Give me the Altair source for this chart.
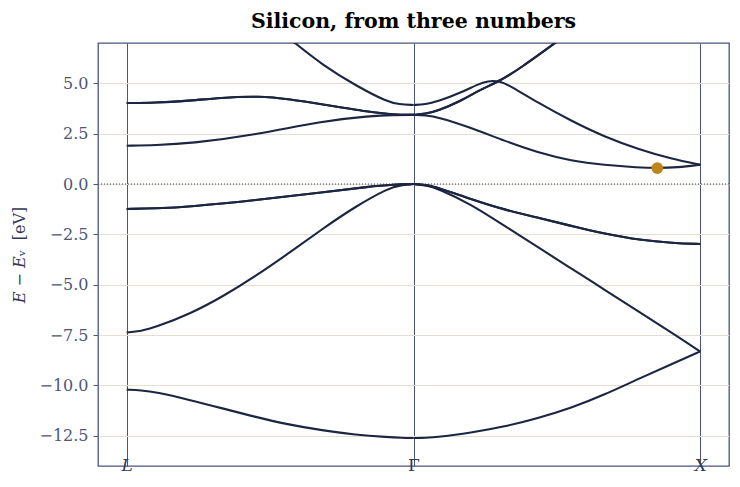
import altair as alt
import pandas as pd

# ---- data (path coordinate: L=0, Gamma=1, X=2) ----
LG_A_x = [0, 0.05, 0.102, 0.218, 0.334, 0.45, 0.566, 0.681, 0.797, 0.913, 0.957, 1.0]
LG_A_E = [-10.21, -10.24, -10.33, -10.71, -11.14, -11.57, -11.95, -12.23, -12.45, -12.57, -12.60, -12.61]

LG_B_x = [0, 0.05, 0.102, 0.218, 0.334, 0.45, 0.566, 0.68, 0.797, 0.913, 0.957, 1.0]
LG_B_E = [-7.37, -7.31, -7.10, -6.47, -5.60, -4.57, -3.43, -2.25, -1.12, -0.20, -0.05, 0.0]

LG_C_x = [0, 0.1, 0.218, 0.45, 0.68, 0.85, 0.93, 1.0]
LG_C_E = [-1.24, -1.21, -1.13, -0.80, -0.42, -0.12, -0.03, 0.0]

LG_D_x = [0, 0.1, 0.22, 0.45, 0.68, 0.85, 0.93, 1.0]
LG_D_E = [1.90, 1.93, 2.01, 2.44, 3.13, 3.38, 3.43, 3.43]

LG_E_x = [0, 0.1, 0.2, 0.33, 0.46, 0.57, 0.68, 0.85, 0.93, 1.0]
LG_E_E = [4.02, 4.04, 4.11, 4.29, 4.37, 4.21, 3.96, 3.56, 3.45, 3.43]

LG_F_x = [0.5, 0.59, 0.68, 0.80, 0.91, 0.95, 1.0]
LG_F_E = [8.0, 6.96, 5.94, 4.87, 4.07, 3.96, 3.92]

GX_a_x = [1.0, 1.042, 1.084, 1.2, 1.317, 1.433, 1.55, 1.666, 1.783, 1.9, 2.0]
GX_a_E = [-12.61, -12.60, -12.57, -12.35, -12.05, -11.63, -11.12, -10.46, -9.68, -8.95, -8.31]

GX_b_x = [1.0, 1.042, 1.084, 1.2, 1.317, 1.439, 1.555, 1.672, 1.788, 1.904, 2.0]
GX_b_E = [0.0, -0.06, -0.22, -1.00, -2.08, -3.18, -4.24, -5.30, -6.37, -7.41, -8.32]

GX_c_x = [1.0, 1.042, 1.084, 1.2, 1.317, 1.439, 1.555, 1.672, 1.788, 1.904, 2.0]
GX_c_E = [0.0, -0.04, -0.17, -0.75, -1.28, -1.69, -2.10, -2.48, -2.78, -2.93, -2.98]

GX_d_x = [1.0, 1.042, 1.084, 1.2, 1.317, 1.433, 1.55, 1.666, 1.783, 1.85, 1.92, 2.0]
GX_d_E = [3.43, 3.41, 3.33, 2.80, 2.14, 1.56, 1.15, 0.94, 0.82, 0.79, 0.82, 0.96]

GX_e_x = [1.0, 1.042, 1.084, 1.165, 1.224, 1.259, 1.3, 1.34, 1.433, 1.55, 1.666, 1.783, 1.9, 2.0]
GX_e_E = [3.92, 3.96, 4.09, 4.53, 4.95, 5.12, 5.12, 4.85, 4.04, 3.13, 2.34, 1.73, 1.24, 0.96]

GX_f_x = [1.0, 1.042, 1.084, 1.165, 1.235, 1.3, 1.375, 1.49, 1.6]
GX_f_E = [3.43, 3.48, 3.63, 4.12, 4.70, 5.11, 5.77, 6.96, 8.1]

CBM_x = [1.85]
CBM_E = [0.79]

TICK_POS = [0, 1, 2]
TICK_LAB = ["L", "Γ", "X"]
Y_TICKS = [-12.5, -10.0, -7.5, -5.0, -2.5, 0.0, 2.5, 5.0]

bands = [
    ("A", LG_A_x, LG_A_E), ("B", LG_B_x, LG_B_E),
    ("C1", LG_C_x, LG_C_E), ("C2", LG_C_x, LG_C_E),
    ("D", LG_D_x, LG_D_E),
    ("E1", LG_E_x, LG_E_E), ("E2", LG_E_x, LG_E_E),
    ("F", LG_F_x, LG_F_E),
    ("a", GX_a_x, GX_a_E), ("b", GX_b_x, GX_b_E),
    ("c1", GX_c_x, GX_c_E), ("c2", GX_c_x, GX_c_E),
    ("d", GX_d_x, GX_d_E), ("e", GX_e_x, GX_e_E),
    ("f1", GX_f_x, GX_f_E), ("f2", GX_f_x, GX_f_E),
]
rows = []
for name, xs, es in bands:
    for i, (xv, ev) in enumerate(zip(xs, es)):
        rows.append({"band": name, "k": xv, "E": ev, "i": i})
df = pd.DataFrame(rows)

FONT = "DejaVu Serif"
SLATE = "#4a5578"
LABEL = "#4d5676"
LINE = "#1c2541"

xscale = alt.Scale(domain=[-0.1, 2.1], nice=False, zero=False)
yscale = alt.Scale(domain=[-14, 7], nice=False, zero=False)

lab_expr = "datum.value == 0 ? '" + TICK_LAB[0] + "' : (datum.value == 1 ? '" + TICK_LAB[1] + "' : '" + TICK_LAB[2] + "')"

xaxis = alt.Axis(
    values=TICK_POS, labelExpr=lab_expr, title=None, ticks=False, domain=False,
    grid=True, gridColor=SLATE, gridWidth=1, gridOpacity=1,
    labelFont=FONT, labelFontSize=17, labelColor="#333a55",
    labelFontStyle={"condition": {"test": "datum.value == 1", "value": "normal"}, "value": "italic"},
    labelBaseline="middle", labelPadding=-1, labelFlush=False,
)
yaxis = alt.Axis(
    values=Y_TICKS, format=".1f", title="𝐸 − 𝐸ᵥ\u00a0\u00a0[eV]", domain=False,
    grid=True, gridColor="#e4dfd0", gridWidth=1, gridOpacity=1,
    ticks=True, tickSize=5, tickColor=SLATE, tickWidth=1,
    labelFont=FONT, labelFontSize=16, labelColor=LABEL, labelPadding=5,
    titleFont=FONT, titleFontSize=16, titleFontWeight="normal", titleColor="#333a55",
    titlePadding=11,
)

lines = alt.Chart(df).mark_line(color=LINE, strokeWidth=2.1, clip=True, interpolate="basis").encode(
    x=alt.X("k:Q", scale=xscale, axis=xaxis),
    y=alt.Y("E:Q", scale=yscale, axis=yaxis),
    detail="band:N",
    order="i:Q",
)

zero = alt.Chart(pd.DataFrame({"E": [0.0]})).mark_rule(
    color="#3a3f55", strokeWidth=1, strokeDash=[1, 2]
).encode(y=alt.Y("E:Q", scale=yscale))

dot = alt.Chart(pd.DataFrame({"k": CBM_x, "E": CBM_E})).mark_circle(
    color="#c0851a", opacity=1, size=140
).encode(x=alt.X("k:Q", scale=xscale), y=alt.Y("E:Q", scale=yscale))

chart = alt.layer(zero, lines, dot).properties(
    width=631, height=423,
    title=alt.TitleParams(
        "Silicon, from three numbers", font=FONT, fontSize=20.5, fontWeight="bold",
        color="#000000", anchor="middle", frame="group", offset=11,
    ),
    autosize=alt.AutoSizeParams(type="none"),
    padding={"left": 90, "top": 35, "right": 2, "bottom": 10},
).configure(
    background="white",
    view=alt.ViewConfig(stroke=SLATE, strokeWidth=1.3),
)

chart.save("out.html", embed_options={"renderer": "svg", "actions": False})
